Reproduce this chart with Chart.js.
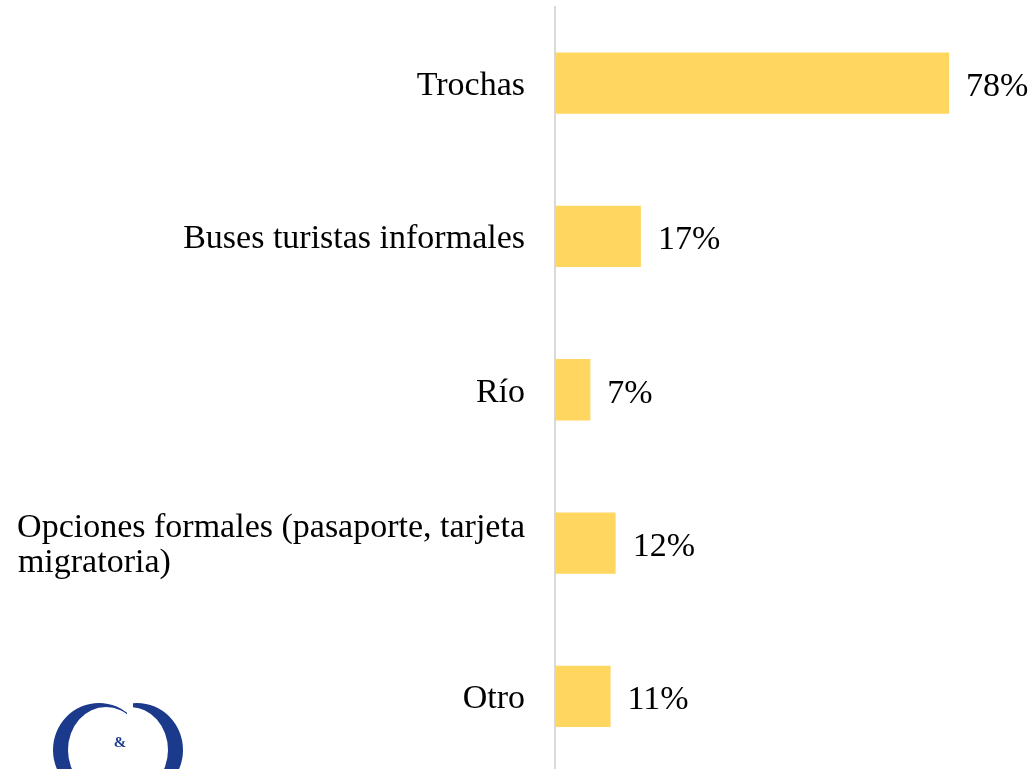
<!DOCTYPE html>
<html><head><meta charset="utf-8">
<script src="https://cdn.jsdelivr.net/npm/chart.js@4.4.0/dist/chart.umd.min.js"></script>
<style>html,body{margin:0;padding:0;overflow:hidden;background:#fff}#wrap{position:relative;width:1033px;height:773px}</style>
</head><body><div id="wrap"><canvas id="c" width="1033" height="773"></canvas></div>
<script>
const categories = ['Trochas', 'Buses turistas informales', 'Río', 'Opciones formales (pasaporte, tarjeta migratoria)', 'Otro'];
const values = [78, 17, 7, 12, 11];
const valueLabels = ['78%', '17%', '7%', '12%', '11%'];

const FONT_FAMILY = '"Liberation Serif", "Times New Roman", serif';
const FONT_SIZE = 34;

// wrap long category into two lines, second line left aligned under the first
const mctx = document.createElement('canvas').getContext('2d');
mctx.font = FONT_SIZE + 'px ' + FONT_FAMILY;
function wrapLabel(text) {
  if (text.length < 30) return text;
  const idx = text.lastIndexOf(' ');
  const l1 = text.slice(0, idx);
  let l2 = text.slice(idx + 1);
  const w1 = mctx.measureText(l1).width;
  while (mctx.measureText(l2 + ' ').width <= w1) l2 += ' ';
  while (mctx.measureText(l2 + '\u200A').width <= w1) l2 += '\u200A';
  return [l1, l2];
}
const tickLabels = categories.map(wrapLabel);

const valueLabelPlugin = {
  id: 'valueLabels',
  afterDatasetsDraw(chart) {
    const ctx = chart.ctx;
    const meta = chart.getDatasetMeta(0);
    ctx.save();
    ctx.font = FONT_SIZE + 'px ' + FONT_FAMILY;
    ctx.fillStyle = '#000';
    ctx.textAlign = 'left';
    ctx.textBaseline = 'middle';
    meta.data.forEach((bar, i) => ctx.fillText(valueLabels[i], bar.x + 17, bar.y + 4));
    ctx.restore();
  }
};

const logoPlugin = {
  id: 'logo',
  afterDraw(chart) {
    const ctx = chart.ctx;
    ctx.save();
    ctx.fillStyle = '#1b3a8c';
    ctx.save();
    ctx.beginPath(); ctx.rect(0, 690, 127, 90); ctx.clip();
    ctx.beginPath();
    ctx.ellipse(99, 750, 46, 47, 0, 0, Math.PI * 2);
    ctx.ellipse(106, 750, 38, 43, 0, 0, Math.PI * 2);
    ctx.fill('evenodd');
    ctx.restore();
    ctx.save();
    ctx.beginPath(); ctx.rect(133, 690, 100, 90); ctx.clip();
    ctx.beginPath();
    ctx.ellipse(137, 750, 46, 47, 0, 0, Math.PI * 2);
    ctx.ellipse(130, 750, 38, 43, 0, 0, Math.PI * 2);
    ctx.fill('evenodd');
    ctx.restore();
    ctx.font = 'bold 15px ' + FONT_FAMILY;
    ctx.textAlign = 'center';
    ctx.textBaseline = 'middle';
    ctx.fillText('&', 120, 743);
    ctx.restore();
  }
};

new Chart(document.getElementById('c'), {
  type: 'bar',
  data: {
    labels: tickLabels,
    datasets: [{
      data: values,
      backgroundColor: '#FFD760',
      categoryPercentage: 1,
      barPercentage: 0.4
    }]
  },
  options: {
    indexAxis: 'y',
    responsive: false,
    devicePixelRatio: 1,
    animation: false,
    layout: { padding: { top: 6.5, right: 0, bottom: 0, left: 0 } },
    plugins: { legend: { display: false }, tooltip: { enabled: false } },
    scales: {
      x: { display: false, min: 0, max: 94.6 },
      y: {
        grid: { display: false, drawTicks: false },
        border: { display: true, color: '#d9d9d9', width: 2 },
        ticks: {
          color: '#000',
          padding: 30,
          labelOffset: 3,
          font: { family: FONT_FAMILY, size: FONT_SIZE, lineHeight: 1.03 }
        },
        afterFit(scale) { scale.width = 555; scale.paddingTop = 0; scale.paddingBottom = 0; }
      }
    }
  },
  plugins: [valueLabelPlugin, logoPlugin]
});
</script>
</body></html>
